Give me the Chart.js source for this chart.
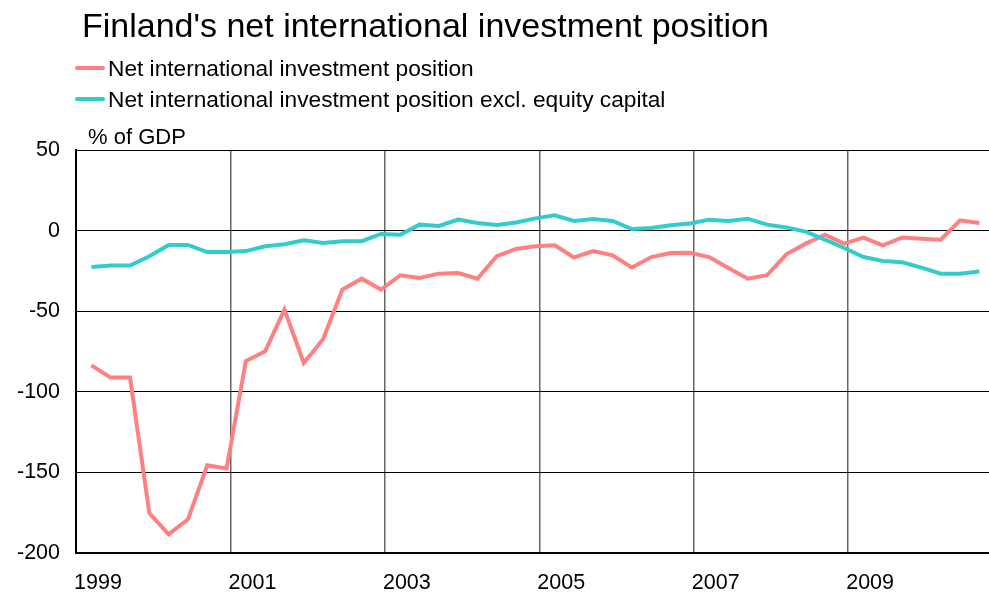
<!DOCTYPE html>
<html lang="en">
<head>
<meta charset="UTF-8">
<title>Finland's net international investment position</title>
<script src="https://cdn.jsdelivr.net/npm/chart.js@4.4.1/dist/chart.umd.min.js"></script>
<style>
  body { margin: 0; background: #fff; font-family: "Liberation Sans", Arial, sans-serif; }
  .wrap { position: relative; width: 989px; height: 598px; overflow: hidden; }
  .wrap canvas { position: absolute; left: 0; top: 0; }
  .title { position: absolute; left: 82px; top: 5px; font-size: 34px; line-height: 40px; color: #000; white-space: nowrap; }
  .legend-row { position: absolute; left: 75px; height: 30px; display: flex; align-items: center; font-size: 22.7px; color: #000; white-space: nowrap; }
  .legend-row .swatch { width: 30px; height: 4px; border-radius: 2px; margin-right: 3px; }
  .unit { position: absolute; left: 88px; top: 124px; font-size: 22px; line-height: 26px; color: #000; }
</style>
</head>
<body>
<div class="wrap">
  <canvas id="niipChart"></canvas>
  <div class="title">Finland's net international investment position</div>
  <div class="legend-row" style="top:53px"><span class="swatch" style="background:#ff8080"></span>Net international investment position</div>
  <div class="legend-row" style="top:84px"><span class="swatch" style="background:#33cccc"></span>Net international investment position excl. equity capital</div>
  <div class="unit">% of GDP</div>
</div>

<script>
  // quarterly observations, 1999 Q1 .. 2010 Q3, % of GDP
  const firstYear = 1999;
  const netPosition = [
    -83.6, -91.2, -91.2, -175.2, -188.4, -179.1, -145.6, -147.6,
    -80.9, -74.9, -49.0, -82.1, -67.4, -36.6, -29.8, -36.6,
    -27.7, -29.4, -26.7, -26.3, -29.8, -15.9, -11.4, -9.7,
    -9.1, -16.7, -12.7, -15.3, -22.9, -16.4, -13.9, -13.8,
    -16.4, -23.2, -29.8, -27.7, -14.7, -8.1, -2.5, -8.1,
    -4.3, -9.1, -4.3, -5.0, -5.6, 6.4, 4.7
  ];
  const netPositionExEquity = [
    -22.6, -21.7, -21.7, -15.9, -8.9, -8.9, -13.3, -13.3,
    -12.7, -9.7, -8.5, -6.0, -7.7, -6.6, -6.6, -2.1,
    -2.6, 3.7, 2.9, 6.8, 4.7, 3.5, 5.0, 7.6,
    9.5, 6.0, 7.2, 6.0, 1.0, 1.6, 3.3, 4.4,
    6.8, 6.0, 7.4, 3.7, 1.9, -0.6, -5.6, -10.8,
    -16.4, -18.9, -19.7, -23.0, -26.7, -26.7, -25.4
  ];
  const yTicks = [50, 0, -50, -100, -150, -200];

  // x runs in quarters from the start of 1999; each value sits late in its quarter
  const toPoints = values => values.map((v, i) => ({ x: i + 0.8, y: v }));

  new Chart(document.getElementById('niipChart'), {
    type: 'line',
    data: {
      datasets: [
        {
          label: 'Net international investment position',
          data: toPoints(netPosition),
          borderColor: '#ff8080',
          borderWidth: 4,
          pointRadius: 0,
          tension: 0,
          order: 1
        },
        {
          label: 'Net international investment position excl. equity capital',
          data: toPoints(netPositionExEquity),
          borderColor: '#33cccc',
          borderWidth: 4,
          pointRadius: 0,
          tension: 0,
          order: 0
        }
      ]
    },
    options: {
      responsive: true,
      maintainAspectRatio: false,
      animation: false,
      layout: { padding: { top: 150, right: 0, bottom: 0, left: 0 } },
      plugins: { legend: { display: false }, title: { display: false }, tooltip: { enabled: false } },
      scales: {
        x: {
          type: 'linear',
          min: 0,
          max: 47.3,
          afterFit: s => { s.height = 45; },
          grid: { color: '#666', lineWidth: 1.5, drawTicks: false },
          border: { color: '#000', width: 2 },
          ticks: {
            stepSize: 8,
            padding: 17,
            labelOffset: 22,
            maxRotation: 0,
            color: '#000',
            font: { family: '"Liberation Sans", Arial, sans-serif', size: 21.5 },
            callback: v => String(firstYear + v / 4)
          },
          afterBuildTicks: s => { s.ticks = s.ticks.filter(t => t.value % 8 === 0); }
        },
        y: {
          min: -200,
          max: 50,
          afterFit: s => { s.width = 76; },
          afterBuildTicks: s => { s.ticks = yTicks.map(v => ({ value: v })); },
          grid: { color: '#000', lineWidth: 1, drawTicks: false },
          border: { color: '#000', width: 2 },
          ticks: {
            padding: 16,
            color: '#000',
            font: { family: '"Liberation Sans", Arial, sans-serif', size: 21.5 }
          }
        }
      }
    }
  });
</script>
</body>
</html>
